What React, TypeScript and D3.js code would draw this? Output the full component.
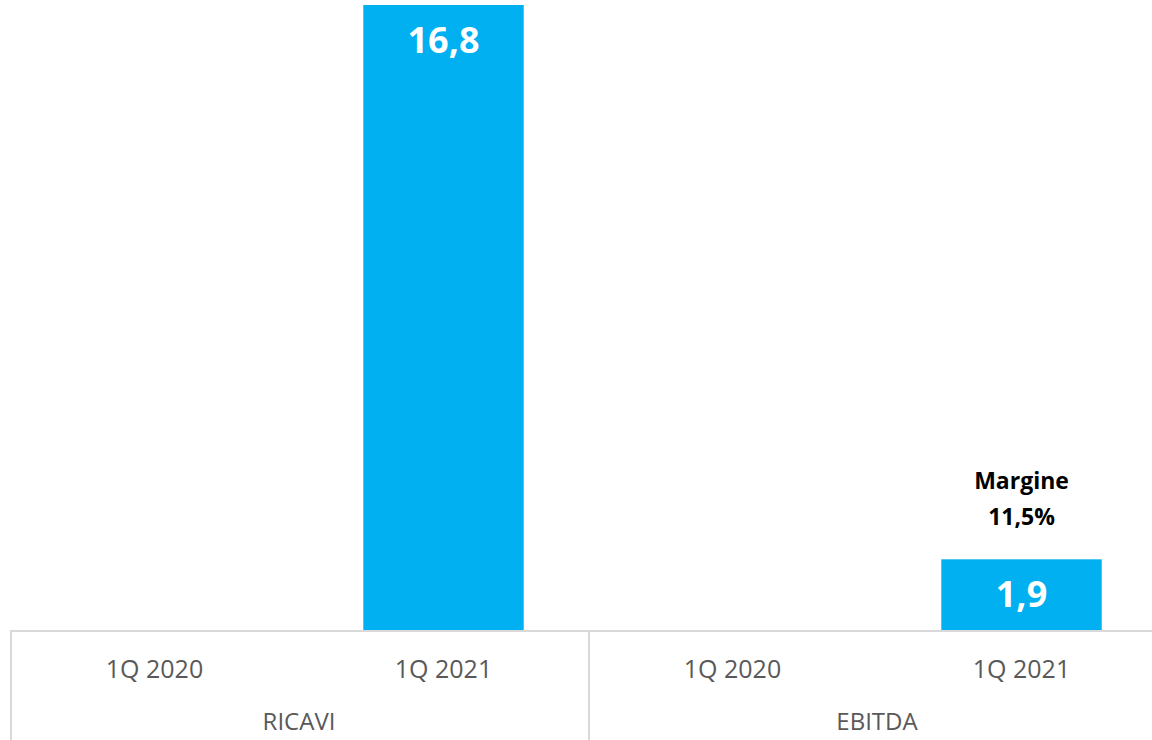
import { useEffect, useRef } from "react";
import * as d3 from "d3";

const groups = ["RICAVI", "EBITDA"];
const periods = ["1Q 2020", "1Q 2021"];
const ricavi = [null, 16.8];
const ebitda = [null, 1.9];
const margins = [null, "11,5%"];

const W = 1152;
const H = 740;
const FONT = "'Open Sans', 'Noto Sans', sans-serif";

function App() {
  const svgRef = useRef<SVGSVGElement | null>(null);

  useEffect(() => {
    const svg = d3.select(svgRef.current);
    svg.selectAll("*").remove();

    const left = 10;
    const right = 1166;
    const baseY = 630;

    const rows: any[] = [];
    groups.forEach((g, gi) => {
      const vals = gi === 0 ? ricavi : ebitda;
      periods.forEach((p, pi) => {
        rows.push({ key: `${g}|${p}`, group: g, period: p, value: vals[pi], margin: gi === 1 ? margins[pi] : null });
      });
    });

    const x = d3
      .scaleBand()
      .domain(rows.map((r) => r.key))
      .range([left, right])
      .paddingInner(0.445)
      .paddingOuter(0.2225);

    const xg = d3.scaleBand().domain(groups).range([left, right]);

    const y = d3.scaleLinear().domain([0, 16.8]).range([baseY, 5]);

    const bars = rows.filter((r) => r.value != null);

    svg
      .selectAll("rect.bar")
      .data(bars)
      .enter()
      .append("rect")
      .attr("class", "bar")
      .attr("x", (d: any) => x(d.key)!)
      .attr("width", x.bandwidth())
      .attr("y", (d: any) => y(d.value))
      .attr("height", (d: any) => baseY - y(d.value))
      .style("fill", "#00b0f0");

    svg
      .selectAll("text.val")
      .data(bars)
      .enter()
      .append("text")
      .attr("class", "val")
      .attr("x", (d: any) => x(d.key)! + x.bandwidth() / 2)
      .attr("y", (d: any) => y(d.value) + 48)
      .attr("text-anchor", "middle")
      .style("font-family", FONT)
      .style("font-weight", "bold")
      .style("font-size", "36px")
      .style("fill", "#ffffff")
      .text((d: any) => d3.format(".1f")(d.value).replace(".", ","));

    const mg = rows.filter((r) => r.margin && r.value != null);
    mg.forEach((d: any) => {
      const cx = x(d.key)! + x.bandwidth() / 2;
      const t = svg
        .append("text")
        .attr("text-anchor", "middle")
        .style("font-family", FONT)
        .style("font-weight", "bold")
        .style("font-size", "23px")
        .style("fill", "#000000");
      t.append("tspan").attr("x", cx).attr("y", y(d.value) - 70).text("Margine");
      t.append("tspan").attr("x", cx).attr("y", y(d.value) - 34).text(d.margin);
    });

    // axis line
    svg
      .append("line")
      .attr("x1", left)
      .attr("x2", right)
      .attr("y1", baseY + 1)
      .attr("y2", baseY + 1)
      .style("stroke", "#d9d9d9")
      .style("stroke-width", 2);

    // group separators
    const seps = [left, ...groups.map((g) => xg(g)! + xg.bandwidth())];
    svg
      .selectAll("line.sep")
      .data(seps)
      .enter()
      .append("line")
      .attr("class", "sep")
      .attr("x1", (d) => d + 1)
      .attr("x2", (d) => d + 1)
      .attr("y1", baseY)
      .attr("y2", H)
      .style("stroke", "#d9d9d9")
      .style("stroke-width", 2);

    svg
      .selectAll("text.cat")
      .data(rows)
      .enter()
      .append("text")
      .attr("class", "cat")
      .attr("x", (d: any) => x(d.key)! + x.bandwidth() / 2)
      .attr("y", 678)
      .attr("text-anchor", "middle")
      .style("font-family", FONT)
      .style("font-size", "25px")
      .style("fill", "#595959")
      .text((d: any) => d.period);

    svg
      .selectAll("text.grp")
      .data(groups)
      .enter()
      .append("text")
      .attr("class", "grp")
      .attr("x", (d) => xg(d)! + xg.bandwidth() / 2)
      .attr("y", 730)
      .attr("text-anchor", "middle")
      .style("font-family", FONT)
      .style("font-size", "24px")
      .style("fill", "#595959")
      .text((d) => d);
  }, []);

  return (
    <svg
      ref={svgRef}
      width={W}
      height={H}
      style={{ position: "absolute", left: 0, top: 0, background: "#ffffff" }}
    ></svg>
  );
}

export default App;
